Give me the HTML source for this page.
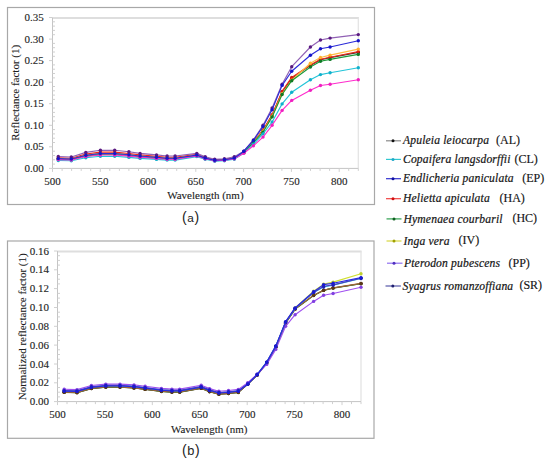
<!DOCTYPE html>
<html><head><meta charset="utf-8"><style>
html,body{margin:0;padding:0;background:#fff;}
body{width:550px;height:464px;overflow:hidden;}
svg{display:block;}
.ax{font-family:"Liberation Serif",serif;font-size:11px;fill:#1e1e1e;stroke:#1e1e1e;stroke-width:0.12px;}
.lt{font-family:"Liberation Sans",sans-serif;font-size:14px;fill:#222;}
.lg{font-family:"Liberation Serif",serif;font-style:italic;font-size:11.6px;letter-spacing:0.16px;fill:#141414;stroke:#141414;stroke-width:0.2px;}
.lc{font-family:"Liberation Serif",serif;font-size:12px;fill:#141414;stroke:#141414;stroke-width:0.15px;}
</style></head><body>
<svg width="550" height="464" viewBox="0 0 550 464">
<rect width="550" height="464" fill="#fff"/>
<rect x="7.5" y="7.5" width="367.0" height="197.0" fill="#fff" stroke="#a8a8a8" stroke-width="1.2"/>
<path d="M52.5 17.9H358.9" fill="none" stroke="#dedede" stroke-width="2"/>
<path d="M358.3 17.9V168.4" fill="none" stroke="#e4e4e4" stroke-width="1.3"/>
<path d="M52.5 17.5V168.4H358.3" fill="none" stroke="#c4c4c4" stroke-width="1"/>
<path d="M49.0 168.4H52.5M49.0 146.8H52.5M49.0 125.3H52.5M49.0 103.7H52.5M49.0 82.2H52.5M49.0 60.6H52.5M49.0 39.1H52.5M49.0 17.5H52.5M52.5 164.1H55.0M52.5 159.8H55.0M52.5 155.5H55.0M52.5 151.2H55.0M52.5 142.5H55.0M52.5 138.2H55.0M52.5 133.9H55.0M52.5 129.6H55.0M52.5 121.0H55.0M52.5 116.7H55.0M52.5 112.4H55.0M52.5 108.0H55.0M52.5 99.4H55.0M52.5 95.1H55.0M52.5 90.8H55.0M52.5 86.5H55.0M52.5 77.9H55.0M52.5 73.5H55.0M52.5 69.2H55.0M52.5 64.9H55.0M52.5 56.3H55.0M52.5 52.0H55.0M52.5 47.7H55.0M52.5 43.4H55.0M52.5 34.7H55.0M52.5 30.4H55.0M52.5 26.1H55.0M52.5 21.8H55.0M52.5 168.4V171.9M62.1 168.4V170.9M71.6 168.4V170.9M81.2 168.4V170.9M90.7 168.4V170.9M100.3 168.4V171.9M109.8 168.4V170.9M119.4 168.4V170.9M128.9 168.4V170.9M138.5 168.4V170.9M148.1 168.4V171.9M157.6 168.4V170.9M167.2 168.4V170.9M176.7 168.4V170.9M186.3 168.4V170.9M195.8 168.4V171.9M205.4 168.4V170.9M215.0 168.4V170.9M224.5 168.4V170.9M234.1 168.4V170.9M243.6 168.4V171.9M253.2 168.4V170.9M262.7 168.4V170.9M272.3 168.4V170.9M281.9 168.4V170.9M291.4 168.4V171.9M301.0 168.4V170.9M310.5 168.4V170.9M320.1 168.4V170.9M329.6 168.4V170.9M339.2 168.4V171.9M348.7 168.4V170.9M358.3 168.4V170.9" fill="none" stroke="#d0d0d0" stroke-width="1"/>
<text x="43.7" y="171.8" class="ax" text-anchor="end">0.00</text>
<text x="43.7" y="150.2" class="ax" text-anchor="end">0.05</text>
<text x="43.7" y="128.7" class="ax" text-anchor="end">0.10</text>
<text x="43.7" y="107.1" class="ax" text-anchor="end">0.15</text>
<text x="43.7" y="85.6" class="ax" text-anchor="end">0.20</text>
<text x="43.7" y="64.0" class="ax" text-anchor="end">0.25</text>
<text x="43.7" y="42.5" class="ax" text-anchor="end">0.30</text>
<text x="43.7" y="20.9" class="ax" text-anchor="end">0.35</text>
<text x="52.5" y="184.6" class="ax" text-anchor="middle">500</text>
<text x="100.3" y="184.6" class="ax" text-anchor="middle">550</text>
<text x="148.1" y="184.6" class="ax" text-anchor="middle">600</text>
<text x="195.8" y="184.6" class="ax" text-anchor="middle">650</text>
<text x="243.6" y="184.6" class="ax" text-anchor="middle">700</text>
<text x="291.4" y="184.6" class="ax" text-anchor="middle">750</text>
<text x="339.2" y="184.6" class="ax" text-anchor="middle">800</text>
<text x="205.4" y="198.9" class="ax" text-anchor="middle">Wavelength (nm)</text>
<text transform="translate(18.8 92.8) rotate(-90)" class="ax" text-anchor="middle">Reflectance factor (1)</text>
<path d="M58.3 158.6 L71.3 159.0 L85.8 155.2 L100.4 153.5 L114.7 153.5 L128.9 154.7 L140.1 156.0 L156.5 157.3 L167.1 158.2 L175.1 158.2 L196.8 155.1 L205.2 158.1 L214.7 160.3 L224.4 159.8 L234.3 158.1 L243.8 152.4 L253.4 142.1 L263.0 130.5 L272.1 115.4 L282.1 92.1 L291.7 78.3 L310.4 65.4 L320.5 59.8 L330.1 57.6 L358.3 52.4" fill="none" stroke="#303030" stroke-width="1.15" stroke-linejoin="round"/>
<g fill="#101010"><circle cx="58.3" cy="158.6" r="1.7"/><circle cx="71.3" cy="159.0" r="1.7"/><circle cx="85.8" cy="155.2" r="1.7"/><circle cx="100.4" cy="153.5" r="1.7"/><circle cx="114.7" cy="153.5" r="1.7"/><circle cx="128.9" cy="154.7" r="1.7"/><circle cx="140.1" cy="156.0" r="1.7"/><circle cx="156.5" cy="157.3" r="1.7"/><circle cx="167.1" cy="158.2" r="1.7"/><circle cx="175.1" cy="158.2" r="1.7"/><circle cx="196.8" cy="155.1" r="1.7"/><circle cx="205.2" cy="158.1" r="1.7"/><circle cx="214.7" cy="160.3" r="1.7"/><circle cx="224.4" cy="159.8" r="1.7"/><circle cx="234.3" cy="158.1" r="1.7"/><circle cx="243.8" cy="152.4" r="1.7"/><circle cx="253.4" cy="142.1" r="1.7"/><circle cx="263.0" cy="130.5" r="1.7"/><circle cx="272.1" cy="115.4" r="1.7"/><circle cx="282.1" cy="92.1" r="1.7"/><circle cx="291.7" cy="78.3" r="1.7"/><circle cx="310.4" cy="65.4" r="1.7"/><circle cx="320.5" cy="59.8" r="1.7"/><circle cx="330.1" cy="57.6" r="1.7"/><circle cx="358.3" cy="52.4" r="1.7"/></g>
<path d="M58.3 157.7 L71.3 158.2 L85.8 154.0 L100.4 152.1 L114.7 152.1 L128.9 153.5 L140.1 154.9 L156.5 156.3 L167.1 157.2 L175.1 157.2 L196.8 154.4 L205.2 157.6 L214.7 159.8 L224.4 159.4 L234.3 157.6 L243.8 152.0 L253.4 141.7 L263.0 130.0 L272.1 114.7 L282.1 91.4 L291.7 77.4 L310.4 65.1 L320.5 59.3 L330.1 57.2 L358.3 51.6" fill="none" stroke="#ee2a1a" stroke-width="1.15" stroke-linejoin="round"/>
<g fill="#dd1a10"><circle cx="58.3" cy="157.7" r="1.7"/><circle cx="71.3" cy="158.2" r="1.7"/><circle cx="85.8" cy="154.0" r="1.7"/><circle cx="100.4" cy="152.1" r="1.7"/><circle cx="114.7" cy="152.1" r="1.7"/><circle cx="128.9" cy="153.5" r="1.7"/><circle cx="140.1" cy="154.9" r="1.7"/><circle cx="156.5" cy="156.3" r="1.7"/><circle cx="167.1" cy="157.2" r="1.7"/><circle cx="175.1" cy="157.2" r="1.7"/><circle cx="196.8" cy="154.4" r="1.7"/><circle cx="205.2" cy="157.6" r="1.7"/><circle cx="214.7" cy="159.8" r="1.7"/><circle cx="224.4" cy="159.4" r="1.7"/><circle cx="234.3" cy="157.6" r="1.7"/><circle cx="243.8" cy="152.0" r="1.7"/><circle cx="253.4" cy="141.7" r="1.7"/><circle cx="263.0" cy="130.0" r="1.7"/><circle cx="272.1" cy="114.7" r="1.7"/><circle cx="282.1" cy="91.4" r="1.7"/><circle cx="291.7" cy="77.4" r="1.7"/><circle cx="310.4" cy="65.1" r="1.7"/><circle cx="320.5" cy="59.3" r="1.7"/><circle cx="330.1" cy="57.2" r="1.7"/><circle cx="358.3" cy="51.6" r="1.7"/></g>
<path d="M58.3 158.6 L71.3 159.0 L85.8 155.2 L100.4 153.5 L114.7 153.5 L128.9 154.7 L140.1 156.0 L156.5 157.3 L167.1 158.2 L175.1 158.2 L196.8 155.1 L205.2 158.1 L214.7 160.3 L224.4 159.8 L234.3 158.1 L243.8 152.0 L253.4 142.1 L263.0 131.3 L272.1 116.2 L282.1 93.8 L291.7 80.2 L310.4 63.2 L320.5 57.5 L330.1 55.1 L358.3 49.1" fill="none" stroke="#ffbb40" stroke-width="1.15" stroke-linejoin="round"/>
<g fill="#ffb030"><circle cx="58.3" cy="158.6" r="1.7"/><circle cx="71.3" cy="159.0" r="1.7"/><circle cx="85.8" cy="155.2" r="1.7"/><circle cx="100.4" cy="153.5" r="1.7"/><circle cx="114.7" cy="153.5" r="1.7"/><circle cx="128.9" cy="154.7" r="1.7"/><circle cx="140.1" cy="156.0" r="1.7"/><circle cx="156.5" cy="157.3" r="1.7"/><circle cx="167.1" cy="158.2" r="1.7"/><circle cx="175.1" cy="158.2" r="1.7"/><circle cx="196.8" cy="155.1" r="1.7"/><circle cx="205.2" cy="158.1" r="1.7"/><circle cx="214.7" cy="160.3" r="1.7"/><circle cx="224.4" cy="159.8" r="1.7"/><circle cx="234.3" cy="158.1" r="1.7"/><circle cx="243.8" cy="152.0" r="1.7"/><circle cx="253.4" cy="142.1" r="1.7"/><circle cx="263.0" cy="131.3" r="1.7"/><circle cx="272.1" cy="116.2" r="1.7"/><circle cx="282.1" cy="93.8" r="1.7"/><circle cx="291.7" cy="80.2" r="1.7"/><circle cx="310.4" cy="63.2" r="1.7"/><circle cx="320.5" cy="57.5" r="1.7"/><circle cx="330.1" cy="55.1" r="1.7"/><circle cx="358.3" cy="49.1" r="1.7"/></g>
<path d="M58.3 159.3 L71.3 159.7 L85.8 156.1 L100.4 154.5 L114.7 154.5 L128.9 155.7 L140.1 156.9 L156.5 158.1 L167.1 158.9 L175.1 158.9 L196.8 155.7 L205.2 158.5 L214.7 160.6 L224.4 160.2 L234.3 158.5 L243.8 152.4 L253.4 142.5 L263.0 132.2 L272.1 116.9 L282.1 94.5 L291.7 80.7 L310.4 67.0 L320.5 61.2 L330.1 59.4 L358.3 54.4" fill="none" stroke="#1c9a38" stroke-width="1.15" stroke-linejoin="round"/>
<g fill="#0e7a26"><circle cx="58.3" cy="159.3" r="1.7"/><circle cx="71.3" cy="159.7" r="1.7"/><circle cx="85.8" cy="156.1" r="1.7"/><circle cx="100.4" cy="154.5" r="1.7"/><circle cx="114.7" cy="154.5" r="1.7"/><circle cx="128.9" cy="155.7" r="1.7"/><circle cx="140.1" cy="156.9" r="1.7"/><circle cx="156.5" cy="158.1" r="1.7"/><circle cx="167.1" cy="158.9" r="1.7"/><circle cx="175.1" cy="158.9" r="1.7"/><circle cx="196.8" cy="155.7" r="1.7"/><circle cx="205.2" cy="158.5" r="1.7"/><circle cx="214.7" cy="160.6" r="1.7"/><circle cx="224.4" cy="160.2" r="1.7"/><circle cx="234.3" cy="158.5" r="1.7"/><circle cx="243.8" cy="152.4" r="1.7"/><circle cx="253.4" cy="142.5" r="1.7"/><circle cx="263.0" cy="132.2" r="1.7"/><circle cx="272.1" cy="116.9" r="1.7"/><circle cx="282.1" cy="94.5" r="1.7"/><circle cx="291.7" cy="80.7" r="1.7"/><circle cx="310.4" cy="67.0" r="1.7"/><circle cx="320.5" cy="61.2" r="1.7"/><circle cx="330.1" cy="59.4" r="1.7"/><circle cx="358.3" cy="54.4" r="1.7"/></g>
<path d="M58.3 160.5 L71.3 160.8 L85.8 157.7 L100.4 156.3 L114.7 156.3 L128.9 157.4 L140.1 158.4 L156.5 159.4 L167.1 160.1 L175.1 160.1 L196.8 156.6 L205.2 159.3 L214.7 161.2 L224.4 160.8 L234.3 159.3 L243.8 152.9 L253.4 144.3 L263.0 133.9 L272.1 122.0 L282.1 103.9 L291.7 92.3 L310.4 79.8 L320.5 74.6 L330.1 72.7 L358.3 67.8" fill="none" stroke="#22c4d8" stroke-width="1.15" stroke-linejoin="round"/>
<g fill="#10b0cc"><circle cx="58.3" cy="160.5" r="1.7"/><circle cx="71.3" cy="160.8" r="1.7"/><circle cx="85.8" cy="157.7" r="1.7"/><circle cx="100.4" cy="156.3" r="1.7"/><circle cx="114.7" cy="156.3" r="1.7"/><circle cx="128.9" cy="157.4" r="1.7"/><circle cx="140.1" cy="158.4" r="1.7"/><circle cx="156.5" cy="159.4" r="1.7"/><circle cx="167.1" cy="160.1" r="1.7"/><circle cx="175.1" cy="160.1" r="1.7"/><circle cx="196.8" cy="156.6" r="1.7"/><circle cx="205.2" cy="159.3" r="1.7"/><circle cx="214.7" cy="161.2" r="1.7"/><circle cx="224.4" cy="160.8" r="1.7"/><circle cx="234.3" cy="159.3" r="1.7"/><circle cx="243.8" cy="152.9" r="1.7"/><circle cx="253.4" cy="144.3" r="1.7"/><circle cx="263.0" cy="133.9" r="1.7"/><circle cx="272.1" cy="122.0" r="1.7"/><circle cx="282.1" cy="103.9" r="1.7"/><circle cx="291.7" cy="92.3" r="1.7"/><circle cx="310.4" cy="79.8" r="1.7"/><circle cx="320.5" cy="74.6" r="1.7"/><circle cx="330.1" cy="72.7" r="1.7"/><circle cx="358.3" cy="67.8" r="1.7"/></g>
<path d="M58.3 159.6 L71.3 160.0 L85.8 156.5 L100.4 155.0 L114.7 155.0 L128.9 156.1 L140.1 157.3 L156.5 158.4 L167.1 159.2 L175.1 159.2 L196.8 155.9 L205.2 158.7 L214.7 160.7 L224.4 160.3 L234.3 158.7 L243.8 153.3 L253.4 145.7 L263.0 137.1 L272.1 125.3 L282.1 110.4 L291.7 100.4 L310.4 90.3 L320.5 85.5 L330.1 84.3 L358.3 79.8" fill="none" stroke="#ff2ccc" stroke-width="1.15" stroke-linejoin="round"/>
<g fill="#f020c0"><circle cx="58.3" cy="159.6" r="1.7"/><circle cx="71.3" cy="160.0" r="1.7"/><circle cx="85.8" cy="156.5" r="1.7"/><circle cx="100.4" cy="155.0" r="1.7"/><circle cx="114.7" cy="155.0" r="1.7"/><circle cx="128.9" cy="156.1" r="1.7"/><circle cx="140.1" cy="157.3" r="1.7"/><circle cx="156.5" cy="158.4" r="1.7"/><circle cx="167.1" cy="159.2" r="1.7"/><circle cx="175.1" cy="159.2" r="1.7"/><circle cx="196.8" cy="155.9" r="1.7"/><circle cx="205.2" cy="158.7" r="1.7"/><circle cx="214.7" cy="160.7" r="1.7"/><circle cx="224.4" cy="160.3" r="1.7"/><circle cx="234.3" cy="158.7" r="1.7"/><circle cx="243.8" cy="153.3" r="1.7"/><circle cx="253.4" cy="145.7" r="1.7"/><circle cx="263.0" cy="137.1" r="1.7"/><circle cx="272.1" cy="125.3" r="1.7"/><circle cx="282.1" cy="110.4" r="1.7"/><circle cx="291.7" cy="100.4" r="1.7"/><circle cx="310.4" cy="90.3" r="1.7"/><circle cx="320.5" cy="85.5" r="1.7"/><circle cx="330.1" cy="84.3" r="1.7"/><circle cx="358.3" cy="79.8" r="1.7"/></g>
<path d="M58.3 156.5 L71.3 157.0 L85.8 152.4 L100.4 150.3 L114.7 150.3 L128.9 151.8 L140.1 153.4 L156.5 154.9 L167.1 156.0 L175.1 156.0 L196.8 153.4 L205.2 156.8 L214.7 159.2 L224.4 158.7 L234.3 156.8 L243.8 151.2 L253.4 139.9 L263.0 125.3 L272.1 108.0 L282.1 84.3 L291.7 66.7 L310.4 47.0 L320.5 40.0 L330.1 38.1 L358.3 34.6" fill="none" stroke="#9060b4" stroke-width="1.15" stroke-linejoin="round"/>
<g fill="#5a1a80"><circle cx="58.3" cy="156.5" r="1.7"/><circle cx="71.3" cy="157.0" r="1.7"/><circle cx="85.8" cy="152.4" r="1.7"/><circle cx="100.4" cy="150.3" r="1.7"/><circle cx="114.7" cy="150.3" r="1.7"/><circle cx="128.9" cy="151.8" r="1.7"/><circle cx="140.1" cy="153.4" r="1.7"/><circle cx="156.5" cy="154.9" r="1.7"/><circle cx="167.1" cy="156.0" r="1.7"/><circle cx="175.1" cy="156.0" r="1.7"/><circle cx="196.8" cy="153.4" r="1.7"/><circle cx="205.2" cy="156.8" r="1.7"/><circle cx="214.7" cy="159.2" r="1.7"/><circle cx="224.4" cy="158.7" r="1.7"/><circle cx="234.3" cy="156.8" r="1.7"/><circle cx="243.8" cy="151.2" r="1.7"/><circle cx="253.4" cy="139.9" r="1.7"/><circle cx="263.0" cy="125.3" r="1.7"/><circle cx="272.1" cy="108.0" r="1.7"/><circle cx="282.1" cy="84.3" r="1.7"/><circle cx="291.7" cy="66.7" r="1.7"/><circle cx="310.4" cy="47.0" r="1.7"/><circle cx="320.5" cy="40.0" r="1.7"/><circle cx="330.1" cy="38.1" r="1.7"/><circle cx="358.3" cy="34.6" r="1.7"/></g>
<path d="M58.3 158.6 L71.3 159.0 L85.8 155.2 L100.4 153.5 L114.7 153.5 L128.9 154.7 L140.1 156.0 L156.5 157.3 L167.1 158.2 L175.1 158.2 L196.8 155.1 L205.2 158.1 L214.7 160.3 L224.4 159.8 L234.3 158.1 L243.8 151.2 L253.4 140.4 L263.0 126.6 L272.1 109.8 L282.1 85.4 L291.7 71.2 L310.4 55.2 L320.5 48.8 L330.1 47.0 L358.3 40.7" fill="none" stroke="#2a2ad8" stroke-width="1.15" stroke-linejoin="round"/>
<g fill="#1414c8"><circle cx="58.3" cy="158.6" r="1.7"/><circle cx="71.3" cy="159.0" r="1.7"/><circle cx="85.8" cy="155.2" r="1.7"/><circle cx="100.4" cy="153.5" r="1.7"/><circle cx="114.7" cy="153.5" r="1.7"/><circle cx="128.9" cy="154.7" r="1.7"/><circle cx="140.1" cy="156.0" r="1.7"/><circle cx="156.5" cy="157.3" r="1.7"/><circle cx="167.1" cy="158.2" r="1.7"/><circle cx="175.1" cy="158.2" r="1.7"/><circle cx="196.8" cy="155.1" r="1.7"/><circle cx="205.2" cy="158.1" r="1.7"/><circle cx="214.7" cy="160.3" r="1.7"/><circle cx="224.4" cy="159.8" r="1.7"/><circle cx="234.3" cy="158.1" r="1.7"/><circle cx="243.8" cy="151.2" r="1.7"/><circle cx="253.4" cy="140.4" r="1.7"/><circle cx="263.0" cy="126.6" r="1.7"/><circle cx="272.1" cy="109.8" r="1.7"/><circle cx="282.1" cy="85.4" r="1.7"/><circle cx="291.7" cy="71.2" r="1.7"/><circle cx="310.4" cy="55.2" r="1.7"/><circle cx="320.5" cy="48.8" r="1.7"/><circle cx="330.1" cy="47.0" r="1.7"/><circle cx="358.3" cy="40.7" r="1.7"/></g>
<text x="190.6" y="222.0" class="lt" text-anchor="middle">(<tspan dx="0.6" style="font-size:11.8px">a</tspan><tspan dx="0.6">)</tspan></text>
<rect x="7.5" y="241" width="366.5" height="197.3" fill="#fff" stroke="#a8a8a8" stroke-width="1.2"/>
<path d="M57.5 251.4H361.6" fill="none" stroke="#dedede" stroke-width="2"/>
<path d="M361.0 251.4V401.6" fill="none" stroke="#e4e4e4" stroke-width="1.3"/>
<path d="M57.5 251.0V401.6H361.0" fill="none" stroke="#c4c4c4" stroke-width="1"/>
<path d="M54.0 401.6H57.5M54.0 382.8H57.5M54.0 364.0H57.5M54.0 345.1H57.5M54.0 326.3H57.5M54.0 307.5H57.5M54.0 288.6H57.5M54.0 269.8H57.5M54.0 251.0H57.5M57.5 396.9H60.0M57.5 392.2H60.0M57.5 387.5H60.0M57.5 378.1H60.0M57.5 373.4H60.0M57.5 368.7H60.0M57.5 359.2H60.0M57.5 354.5H60.0M57.5 349.8H60.0M57.5 340.4H60.0M57.5 335.7H60.0M57.5 331.0H60.0M57.5 321.6H60.0M57.5 316.9H60.0M57.5 312.2H60.0M57.5 302.8H60.0M57.5 298.1H60.0M57.5 293.4H60.0M57.5 283.9H60.0M57.5 279.2H60.0M57.5 274.5H60.0M57.5 265.1H60.0M57.5 260.4H60.0M57.5 255.7H60.0M57.5 401.6V405.1M67.0 401.6V404.1M76.5 401.6V404.1M86.0 401.6V404.1M95.4 401.6V404.1M104.9 401.6V405.1M114.4 401.6V404.1M123.9 401.6V404.1M133.4 401.6V404.1M142.9 401.6V404.1M152.3 401.6V405.1M161.8 401.6V404.1M171.3 401.6V404.1M180.8 401.6V404.1M190.3 401.6V404.1M199.8 401.6V405.1M209.2 401.6V404.1M218.7 401.6V404.1M228.2 401.6V404.1M237.7 401.6V404.1M247.2 401.6V405.1M256.7 401.6V404.1M266.2 401.6V404.1M275.6 401.6V404.1M285.1 401.6V404.1M294.6 401.6V405.1M304.1 401.6V404.1M313.6 401.6V404.1M323.1 401.6V404.1M332.5 401.6V404.1M342.0 401.6V405.1M351.5 401.6V404.1M361.0 401.6V404.1" fill="none" stroke="#d0d0d0" stroke-width="1"/>
<text x="49.0" y="405.2" class="ax" text-anchor="end">0.00</text>
<text x="49.0" y="386.4" class="ax" text-anchor="end">0.02</text>
<text x="49.0" y="367.6" class="ax" text-anchor="end">0.04</text>
<text x="49.0" y="348.7" class="ax" text-anchor="end">0.06</text>
<text x="49.0" y="329.9" class="ax" text-anchor="end">0.08</text>
<text x="49.0" y="311.1" class="ax" text-anchor="end">0.10</text>
<text x="49.0" y="292.2" class="ax" text-anchor="end">0.12</text>
<text x="49.0" y="273.4" class="ax" text-anchor="end">0.14</text>
<text x="49.0" y="254.6" class="ax" text-anchor="end">0.16</text>
<text x="57.5" y="417.9" class="ax" text-anchor="middle">500</text>
<text x="104.9" y="417.9" class="ax" text-anchor="middle">550</text>
<text x="152.3" y="417.9" class="ax" text-anchor="middle">600</text>
<text x="199.8" y="417.9" class="ax" text-anchor="middle">650</text>
<text x="247.2" y="417.9" class="ax" text-anchor="middle">700</text>
<text x="294.6" y="417.9" class="ax" text-anchor="middle">750</text>
<text x="342.0" y="417.9" class="ax" text-anchor="middle">800</text>
<text x="209.2" y="433.2" class="ax" text-anchor="middle">Wavelength (nm)</text>
<text transform="translate(26.1 326.8) rotate(-90)" class="ax" text-anchor="middle">Normalized reflectance factor (1)</text>
<path d="M64.2 391.9 L77.0 392.2 L91.4 388.1 L105.8 386.7 L120.0 386.7 L134.0 387.6 L145.1 388.9 L161.4 391.1 L171.9 391.7 L179.7 391.7 L201.2 388.0 L209.5 391.2 L218.9 393.8 L228.5 393.1 L238.3 392.0 L247.8 384.0 L257.2 374.5 L266.7 362.3 L275.8 346.1 L285.6 322.1 L295.1 307.9 L313.6 291.3 L323.6 284.1 L333.1 282.1 L361.0 273.7" fill="none" stroke="#d0e030" stroke-width="1.15" stroke-linejoin="round"/>
<g fill="#c0d030"><circle cx="64.2" cy="391.9" r="1.7"/><circle cx="77.0" cy="392.2" r="1.7"/><circle cx="91.4" cy="388.1" r="1.7"/><circle cx="105.8" cy="386.7" r="1.7"/><circle cx="120.0" cy="386.7" r="1.7"/><circle cx="134.0" cy="387.6" r="1.7"/><circle cx="145.1" cy="388.9" r="1.7"/><circle cx="161.4" cy="391.1" r="1.7"/><circle cx="171.9" cy="391.7" r="1.7"/><circle cx="179.7" cy="391.7" r="1.7"/><circle cx="201.2" cy="388.0" r="1.7"/><circle cx="209.5" cy="391.2" r="1.7"/><circle cx="218.9" cy="393.8" r="1.7"/><circle cx="228.5" cy="393.1" r="1.7"/><circle cx="238.3" cy="392.0" r="1.7"/><circle cx="247.8" cy="384.0" r="1.7"/><circle cx="257.2" cy="374.5" r="1.7"/><circle cx="266.7" cy="362.3" r="1.7"/><circle cx="275.8" cy="346.1" r="1.7"/><circle cx="285.6" cy="322.1" r="1.7"/><circle cx="295.1" cy="307.9" r="1.7"/><circle cx="313.6" cy="291.3" r="1.7"/><circle cx="323.6" cy="284.1" r="1.7"/><circle cx="333.1" cy="282.1" r="1.7"/><circle cx="361.0" cy="273.7" r="1.7"/></g>
<path d="M64.2 392.4 L77.0 392.7 L91.4 388.6 L105.8 387.2 L120.0 387.2 L134.0 388.0 L145.1 389.4 L161.4 391.5 L171.9 392.2 L179.7 392.2 L201.2 388.4 L209.5 391.7 L218.9 394.3 L228.5 393.6 L238.3 392.5 L247.8 384.1 L257.2 375.1 L266.7 363.0 L275.8 347.2 L285.6 323.2 L295.1 309.1 L313.6 295.4 L323.6 290.3 L333.1 288.0 L361.0 283.6" fill="none" stroke="#5a4a30" stroke-width="1.15" stroke-linejoin="round"/>
<g fill="#4a3010"><circle cx="64.2" cy="392.4" r="1.7"/><circle cx="77.0" cy="392.7" r="1.7"/><circle cx="91.4" cy="388.6" r="1.7"/><circle cx="105.8" cy="387.2" r="1.7"/><circle cx="120.0" cy="387.2" r="1.7"/><circle cx="134.0" cy="388.0" r="1.7"/><circle cx="145.1" cy="389.4" r="1.7"/><circle cx="161.4" cy="391.5" r="1.7"/><circle cx="171.9" cy="392.2" r="1.7"/><circle cx="179.7" cy="392.2" r="1.7"/><circle cx="201.2" cy="388.4" r="1.7"/><circle cx="209.5" cy="391.7" r="1.7"/><circle cx="218.9" cy="394.3" r="1.7"/><circle cx="228.5" cy="393.6" r="1.7"/><circle cx="238.3" cy="392.5" r="1.7"/><circle cx="247.8" cy="384.1" r="1.7"/><circle cx="257.2" cy="375.1" r="1.7"/><circle cx="266.7" cy="363.0" r="1.7"/><circle cx="275.8" cy="347.2" r="1.7"/><circle cx="285.6" cy="323.2" r="1.7"/><circle cx="295.1" cy="309.1" r="1.7"/><circle cx="313.6" cy="295.4" r="1.7"/><circle cx="323.6" cy="290.3" r="1.7"/><circle cx="333.1" cy="288.0" r="1.7"/><circle cx="361.0" cy="283.6" r="1.7"/></g>
<path d="M64.2 392.3 L77.0 392.6 L91.4 388.5 L105.8 387.1 L120.0 387.1 L134.0 388.0 L145.1 389.3 L161.4 391.4 L171.9 392.1 L179.7 392.1 L201.2 388.3 L209.5 391.6 L218.9 394.2 L228.5 393.5 L238.3 392.4 L247.8 384.0 L257.2 375.0 L266.7 363.0 L275.8 347.2 L285.6 323.0 L295.1 309.1 L313.6 295.5 L323.6 290.4 L333.1 288.1 L361.0 283.7" fill="none" stroke="#308030" stroke-width="1.15" stroke-linejoin="round"/>
<g fill="#504010"><circle cx="64.2" cy="392.3" r="1.7"/><circle cx="77.0" cy="392.6" r="1.7"/><circle cx="91.4" cy="388.5" r="1.7"/><circle cx="105.8" cy="387.1" r="1.7"/><circle cx="120.0" cy="387.1" r="1.7"/><circle cx="134.0" cy="388.0" r="1.7"/><circle cx="145.1" cy="389.3" r="1.7"/><circle cx="161.4" cy="391.4" r="1.7"/><circle cx="171.9" cy="392.1" r="1.7"/><circle cx="179.7" cy="392.1" r="1.7"/><circle cx="201.2" cy="388.3" r="1.7"/><circle cx="209.5" cy="391.6" r="1.7"/><circle cx="218.9" cy="394.2" r="1.7"/><circle cx="228.5" cy="393.5" r="1.7"/><circle cx="238.3" cy="392.4" r="1.7"/><circle cx="247.8" cy="384.0" r="1.7"/><circle cx="257.2" cy="375.0" r="1.7"/><circle cx="266.7" cy="363.0" r="1.7"/><circle cx="275.8" cy="347.2" r="1.7"/><circle cx="285.6" cy="323.0" r="1.7"/><circle cx="295.1" cy="309.1" r="1.7"/><circle cx="313.6" cy="295.5" r="1.7"/><circle cx="323.6" cy="290.4" r="1.7"/><circle cx="333.1" cy="288.1" r="1.7"/><circle cx="361.0" cy="283.7" r="1.7"/></g>
<path d="M64.2 392.2 L77.0 392.5 L91.4 388.4 L105.8 387.0 L120.0 387.0 L134.0 387.9 L145.1 389.2 L161.4 391.3 L171.9 392.0 L179.7 392.0 L201.2 388.2 L209.5 391.5 L218.9 394.1 L228.5 393.4 L238.3 392.3 L247.8 384.0 L257.2 375.0 L266.7 363.0 L275.8 347.0 L285.6 323.0 L295.1 308.9 L313.6 295.2 L323.6 290.2 L333.1 287.9 L361.0 283.4" fill="none" stroke="#a06038" stroke-width="1.15" stroke-linejoin="round"/>
<g fill="#5a3818"><circle cx="64.2" cy="392.2" r="1.7"/><circle cx="77.0" cy="392.5" r="1.7"/><circle cx="91.4" cy="388.4" r="1.7"/><circle cx="105.8" cy="387.0" r="1.7"/><circle cx="120.0" cy="387.0" r="1.7"/><circle cx="134.0" cy="387.9" r="1.7"/><circle cx="145.1" cy="389.2" r="1.7"/><circle cx="161.4" cy="391.3" r="1.7"/><circle cx="171.9" cy="392.0" r="1.7"/><circle cx="179.7" cy="392.0" r="1.7"/><circle cx="201.2" cy="388.2" r="1.7"/><circle cx="209.5" cy="391.5" r="1.7"/><circle cx="218.9" cy="394.1" r="1.7"/><circle cx="228.5" cy="393.4" r="1.7"/><circle cx="238.3" cy="392.3" r="1.7"/><circle cx="247.8" cy="384.0" r="1.7"/><circle cx="257.2" cy="375.0" r="1.7"/><circle cx="266.7" cy="363.0" r="1.7"/><circle cx="275.8" cy="347.0" r="1.7"/><circle cx="285.6" cy="323.0" r="1.7"/><circle cx="295.1" cy="308.9" r="1.7"/><circle cx="313.6" cy="295.2" r="1.7"/><circle cx="323.6" cy="290.2" r="1.7"/><circle cx="333.1" cy="287.9" r="1.7"/><circle cx="361.0" cy="283.4" r="1.7"/></g>
<path d="M64.2 390.8 L77.0 391.1 L91.4 387.0 L105.8 385.6 L120.0 385.6 L134.0 386.4 L145.1 387.8 L161.4 389.9 L171.9 390.6 L179.7 390.6 L201.2 386.8 L209.5 390.1 L218.9 392.7 L228.5 392.0 L238.3 390.9 L247.8 383.7 L257.2 374.3 L266.7 362.1 L275.8 346.3 L285.6 322.3 L295.1 308.4 L313.6 292.4 L323.6 287.0 L333.1 285.1 L361.0 278.5" fill="none" stroke="#30b8d8" stroke-width="1.15" stroke-linejoin="round"/>
<g fill="#2020d0"><circle cx="64.2" cy="390.8" r="1.7"/><circle cx="77.0" cy="391.1" r="1.7"/><circle cx="91.4" cy="387.0" r="1.7"/><circle cx="105.8" cy="385.6" r="1.7"/><circle cx="120.0" cy="385.6" r="1.7"/><circle cx="134.0" cy="386.4" r="1.7"/><circle cx="145.1" cy="387.8" r="1.7"/><circle cx="161.4" cy="389.9" r="1.7"/><circle cx="171.9" cy="390.6" r="1.7"/><circle cx="179.7" cy="390.6" r="1.7"/><circle cx="201.2" cy="386.8" r="1.7"/><circle cx="209.5" cy="390.1" r="1.7"/><circle cx="218.9" cy="392.7" r="1.7"/><circle cx="228.5" cy="392.0" r="1.7"/><circle cx="238.3" cy="390.9" r="1.7"/><circle cx="247.8" cy="383.7" r="1.7"/><circle cx="257.2" cy="374.3" r="1.7"/><circle cx="266.7" cy="362.1" r="1.7"/><circle cx="275.8" cy="346.3" r="1.7"/><circle cx="285.6" cy="322.3" r="1.7"/><circle cx="295.1" cy="308.4" r="1.7"/><circle cx="313.6" cy="292.4" r="1.7"/><circle cx="323.6" cy="287.0" r="1.7"/><circle cx="333.1" cy="285.1" r="1.7"/><circle cx="361.0" cy="278.5" r="1.7"/></g>
<path d="M64.2 389.3 L77.0 389.6 L91.4 385.5 L105.8 384.1 L120.0 384.1 L134.0 384.9 L145.1 386.3 L161.4 388.4 L171.9 389.1 L179.7 389.1 L201.2 385.3 L209.5 388.6 L218.9 391.2 L228.5 390.5 L238.3 389.4 L247.8 382.8 L257.2 374.3 L266.7 364.4 L275.8 349.4 L285.6 326.3 L295.1 314.7 L313.6 301.4 L323.6 295.3 L333.1 293.5 L361.0 287.3" fill="none" stroke="#a050f0" stroke-width="1.15" stroke-linejoin="round"/>
<g fill="#8040e0"><circle cx="64.2" cy="389.3" r="1.7"/><circle cx="77.0" cy="389.6" r="1.7"/><circle cx="91.4" cy="385.5" r="1.7"/><circle cx="105.8" cy="384.1" r="1.7"/><circle cx="120.0" cy="384.1" r="1.7"/><circle cx="134.0" cy="384.9" r="1.7"/><circle cx="145.1" cy="386.3" r="1.7"/><circle cx="161.4" cy="388.4" r="1.7"/><circle cx="171.9" cy="389.1" r="1.7"/><circle cx="179.7" cy="389.1" r="1.7"/><circle cx="201.2" cy="385.3" r="1.7"/><circle cx="209.5" cy="388.6" r="1.7"/><circle cx="218.9" cy="391.2" r="1.7"/><circle cx="228.5" cy="390.5" r="1.7"/><circle cx="238.3" cy="389.4" r="1.7"/><circle cx="247.8" cy="382.8" r="1.7"/><circle cx="257.2" cy="374.3" r="1.7"/><circle cx="266.7" cy="364.4" r="1.7"/><circle cx="275.8" cy="349.4" r="1.7"/><circle cx="285.6" cy="326.3" r="1.7"/><circle cx="295.1" cy="314.7" r="1.7"/><circle cx="313.6" cy="301.4" r="1.7"/><circle cx="323.6" cy="295.3" r="1.7"/><circle cx="333.1" cy="293.5" r="1.7"/><circle cx="361.0" cy="287.3" r="1.7"/></g>
<path d="M64.2 390.6 L77.0 390.9 L91.4 386.8 L105.8 385.4 L120.0 385.4 L134.0 386.3 L145.1 387.6 L161.4 389.7 L171.9 390.4 L179.7 390.4 L201.2 386.6 L209.5 389.9 L218.9 392.5 L228.5 391.8 L238.3 390.7 L247.8 384.2 L257.2 374.8 L266.7 362.5 L275.8 346.5 L285.6 322.1 L295.1 308.4 L313.6 292.4 L323.6 286.3 L333.1 284.9 L361.0 278.3" fill="none" stroke="#4a40c0" stroke-width="1.15" stroke-linejoin="round"/>
<g fill="#2020b0"><circle cx="64.2" cy="390.6" r="1.7"/><circle cx="77.0" cy="390.9" r="1.7"/><circle cx="91.4" cy="386.8" r="1.7"/><circle cx="105.8" cy="385.4" r="1.7"/><circle cx="120.0" cy="385.4" r="1.7"/><circle cx="134.0" cy="386.3" r="1.7"/><circle cx="145.1" cy="387.6" r="1.7"/><circle cx="161.4" cy="389.7" r="1.7"/><circle cx="171.9" cy="390.4" r="1.7"/><circle cx="179.7" cy="390.4" r="1.7"/><circle cx="201.2" cy="386.6" r="1.7"/><circle cx="209.5" cy="389.9" r="1.7"/><circle cx="218.9" cy="392.5" r="1.7"/><circle cx="228.5" cy="391.8" r="1.7"/><circle cx="238.3" cy="390.7" r="1.7"/><circle cx="247.8" cy="384.2" r="1.7"/><circle cx="257.2" cy="374.8" r="1.7"/><circle cx="266.7" cy="362.5" r="1.7"/><circle cx="275.8" cy="346.5" r="1.7"/><circle cx="285.6" cy="322.1" r="1.7"/><circle cx="295.1" cy="308.4" r="1.7"/><circle cx="313.6" cy="292.4" r="1.7"/><circle cx="323.6" cy="286.3" r="1.7"/><circle cx="333.1" cy="284.9" r="1.7"/><circle cx="361.0" cy="278.3" r="1.7"/></g>
<path d="M64.2 391.2 L77.0 391.4 L91.4 387.4 L105.8 386.0 L120.0 386.0 L134.0 386.8 L145.1 388.1 L161.4 390.3 L171.9 391.0 L179.7 391.0 L201.2 387.2 L209.5 390.5 L218.9 393.0 L228.5 392.4 L238.3 391.2 L247.8 384.0 L257.2 374.5 L266.7 362.1 L275.8 345.9 L285.6 321.6 L295.1 307.9 L313.6 291.7 L323.6 284.6 L333.1 283.3 L361.0 277.6" fill="none" stroke="#2a2ae0" stroke-width="1.15" stroke-linejoin="round"/>
<g fill="#1a1ad0"><circle cx="64.2" cy="391.2" r="1.7"/><circle cx="77.0" cy="391.4" r="1.7"/><circle cx="91.4" cy="387.4" r="1.7"/><circle cx="105.8" cy="386.0" r="1.7"/><circle cx="120.0" cy="386.0" r="1.7"/><circle cx="134.0" cy="386.8" r="1.7"/><circle cx="145.1" cy="388.1" r="1.7"/><circle cx="161.4" cy="390.3" r="1.7"/><circle cx="171.9" cy="391.0" r="1.7"/><circle cx="179.7" cy="391.0" r="1.7"/><circle cx="201.2" cy="387.2" r="1.7"/><circle cx="209.5" cy="390.5" r="1.7"/><circle cx="218.9" cy="393.0" r="1.7"/><circle cx="228.5" cy="392.4" r="1.7"/><circle cx="238.3" cy="391.2" r="1.7"/><circle cx="247.8" cy="384.0" r="1.7"/><circle cx="257.2" cy="374.5" r="1.7"/><circle cx="266.7" cy="362.1" r="1.7"/><circle cx="275.8" cy="345.9" r="1.7"/><circle cx="285.6" cy="321.6" r="1.7"/><circle cx="295.1" cy="307.9" r="1.7"/><circle cx="313.6" cy="291.7" r="1.7"/><circle cx="323.6" cy="284.6" r="1.7"/><circle cx="333.1" cy="283.3" r="1.7"/><circle cx="361.0" cy="277.6" r="1.7"/></g>
<text x="190.8" y="455.2" class="lt" text-anchor="middle">(<tspan dx="0.6" style="font-size:12.8px">b</tspan><tspan dx="0.6">)</tspan></text>
<path d="M386 140.8H401" stroke="#8a8a8a" stroke-width="1.2"/><circle cx="393" cy="140.8" r="1.5" fill="#101010"/><text x="403" y="144.4" class="lg">Apuleia leiocarpa</text><text x="496.0" y="144.1" class="lc">(AL)</text><path d="M386 159.4H401" stroke="#30c8d0" stroke-width="1.2"/><circle cx="393" cy="159.4" r="1.5" fill="#20a8c8"/><text x="403" y="163.0" class="lg">Copaifera langsdorffii</text><text x="514.5" y="162.7" class="lc">(CL)</text><path d="M386 178.7H401" stroke="#3030d0" stroke-width="1.2"/><circle cx="393" cy="178.7" r="1.5" fill="#1010a0"/><text x="403" y="182.3" class="lg">Endlicheria paniculata</text><text x="522.2" y="182.0" class="lc">(EP)</text><path d="M386 198.7H401" stroke="#f04040" stroke-width="1.2"/><circle cx="393" cy="198.7" r="1.5" fill="#d01010"/><text x="403" y="202.3" class="lg">Helietta apiculata</text><text x="499.5" y="202.0" class="lc">(HA)</text><path d="M386.5 218.9H401.5" stroke="#30a050" stroke-width="1.2"/><circle cx="394" cy="218.9" r="1.5" fill="#106020"/><text x="403.5" y="222.5" class="lg">Hymenaea courbaril</text><text x="512.4" y="222.2" class="lc">(HC)</text><path d="M386.5 241.0H401.5" stroke="#d8d840" stroke-width="1.2"/><circle cx="394" cy="241.0" r="1.5" fill="#a0a000"/><text x="403.5" y="244.6" class="lg">Inga vera</text><text x="458.6" y="244.3" class="lc">(IV)</text><path d="M387 263.2H402.5" stroke="#9070f0" stroke-width="1.2"/><circle cx="394" cy="263.2" r="1.5" fill="#5030c0"/><text x="404" y="266.8" class="lg">Pterodon pubescens</text><text x="508.5" y="266.5" class="lc">(PP)</text><path d="M385.5 286.0H400.9" stroke="#5858a8" stroke-width="1.2"/><circle cx="392.8" cy="286.0" r="1.5" fill="#202070"/><text x="402.5" y="289.6" class="lg">Syagrus romanzoffiana</text><text x="519.4" y="289.3" class="lc">(SR)</text>
</svg>
</body></html>
